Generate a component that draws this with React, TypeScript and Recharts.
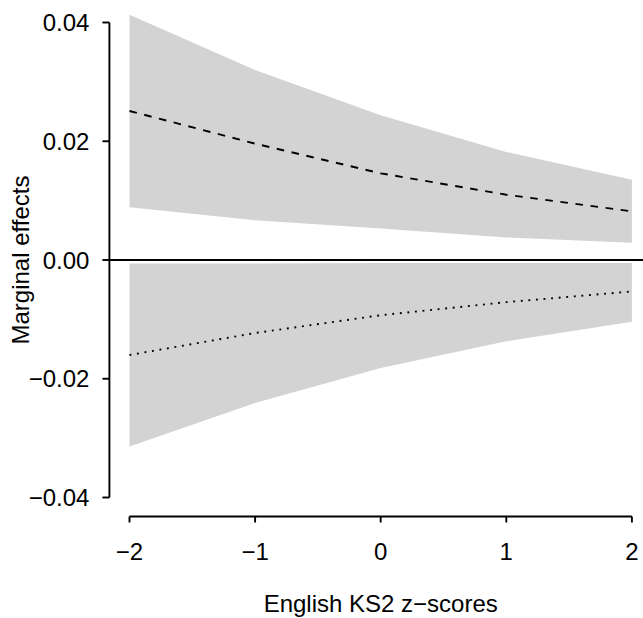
import React from 'react';
import {
  ComposedChart,
  Area,
  Line,
  XAxis,
  YAxis,
  ReferenceLine,
} from 'recharts';

// z-scores on the x axis
const zScores = [-2, -1, 0, 1, 2];

// dashed effect and its band (upper panel)
const dashedEffect = [0.0251, 0.0196, 0.0146, 0.0110, 0.0082];
const dashedLow = [0.0089, 0.0067, 0.0053, 0.0038, 0.0029];
const dashedHigh = [0.0413, 0.0320, 0.0244, 0.0182, 0.0135];

// dotted effect and its band (lower panel)
const dottedEffect = [-0.0160, -0.0123, -0.0093, -0.0071, -0.0053];
const dottedLow = [-0.0314, -0.0241, -0.0182, -0.0137, -0.0104];
const dottedHigh = [-0.0006, -0.0006, -0.0005, -0.0005, -0.0005];

const yTicks = [-0.04, -0.02, 0, 0.02, 0.04];

const data = zScores.map((x, i) => ({
  x,
  dashed: dashedEffect[i],
  dotted: dottedEffect[i],
  upperBand: [dashedLow[i], dashedHigh[i]],
  lowerBand: [dottedLow[i], dottedHigh[i]],
}));

const FONT = '"Liberation Sans", Arial, Helvetica, sans-serif';
const FS = 24;
const LW = 1.9;

const minus = (s: string) => s.replace('-', '\u2212');

export default function App() {
  return (
    <div
      style={{
        position: 'absolute',
        left: 0,
        top: 0,
        width: 643,
        height: 618,
        overflow: 'hidden',
        background: '#fff',
      }}
    >
      <ComposedChart
        width={652}
        height={618}
        data={data}
        margin={{ top: 3.5, right: 0, left: 0, bottom: 0 }}
      >
        <XAxis
          type="number"
          dataKey="x"
          domain={[-2.16, 2.16]}
          ticks={zScores}
          allowDataOverflow
          axisLine={false}
          height={101.5}
          tickSize={6}
          tickMargin={20}
          tickLine={{ stroke: '#000', strokeWidth: LW }}
          tick={{ fill: '#000', fontSize: FS, fontFamily: FONT }}
          tickFormatter={(v: number) => minus(String(v))}
          label={{
            content: (p: any) => {
              const vb = p.viewBox || { x: 0, y: 0, width: 0, height: 0 };
              return (
                <text
                  x={vb.x + vb.width / 2}
                  y={612}
                  textAnchor="middle"
                  fontSize={FS}
                  fontFamily={FONT}
                  fill="#000"
                >
                  English KS2 z{'\u2212'}scores
                </text>
              );
            },
          }}
        />
        <YAxis
          type="number"
          domain={[-0.0432, 0.0432]}
          ticks={yTicks}
          allowDataOverflow
          axisLine={false}
          width={109.4}
          tickSize={7}
          tickMargin={13}
          tickLine={{ stroke: '#000', strokeWidth: LW }}
          tick={{ fill: '#000', fontSize: FS, fontFamily: FONT }}
          tickFormatter={(v: number) => minus(v.toFixed(2))}
          label={{
            content: (p: any) => {
              const vb = p.viewBox || { x: 0, y: 0, width: 0, height: 0 };
              const cy = vb.y + vb.height / 2;
              return (
                <text
                  x={29}
                  y={cy}
                  transform={`rotate(-90, 29, ${cy})`}
                  textAnchor="middle"
                  fontSize={FS}
                  fontFamily={FONT}
                  fill="#000"
                >
                  Marginal effects
                </text>
              );
            },
          }}
        />
        <Area
          dataKey="upperBand"
          type="linear"
          stroke="none"
          fill="#D3D3D3"
          fillOpacity={1}
          isAnimationActive={false}
          activeDot={false}
        />
        <Area
          dataKey="lowerBand"
          type="linear"
          stroke="none"
          fill="#D3D3D3"
          fillOpacity={1}
          isAnimationActive={false}
          activeDot={false}
        />
        <ReferenceLine y={0} stroke="#000" strokeWidth={LW} ifOverflow="visible" />
        <ReferenceLine
          segment={[
            { x: -2.16, y: -0.04 },
            { x: -2.16, y: 0.04 },
          ]}
          stroke="#000"
          strokeWidth={LW}
          ifOverflow="visible"
        />
        <ReferenceLine
          segment={[
            { x: -2, y: -0.0432 },
            { x: 2, y: -0.0432 },
          ]}
          stroke="#000"
          strokeWidth={LW}
          ifOverflow="visible"
        />
        <Line
          dataKey="dashed"
          type="linear"
          stroke="#000"
          strokeWidth={LW}
          strokeDasharray="7.6 7.6"
          dot={false}
          activeDot={false}
          isAnimationActive={false}
        />
        <Line
          dataKey="dotted"
          type="linear"
          stroke="#000"
          strokeWidth={LW}
          strokeDasharray="1.9 5.7"
          dot={false}
          activeDot={false}
          isAnimationActive={false}
        />
      </ComposedChart>
    </div>
  );
}
